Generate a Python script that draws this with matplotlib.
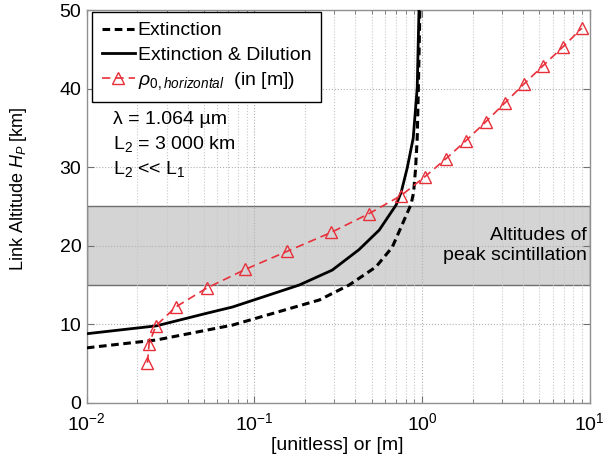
import numpy as np
import matplotlib
matplotlib.use('Agg')
import matplotlib.pyplot as plt

plt.rcParams['font.family'] = ['Liberation Sans', 'DejaVu Sans']
plt.rcParams['mathtext.fontset'] = 'custom'
plt.rcParams['mathtext.rm'] = 'Liberation Sans'
plt.rcParams['mathtext.it'] = 'Liberation Sans:italic'
plt.rcParams['mathtext.bf'] = 'Liberation Sans:bold'

# Extinction only (dashed black)
ext_x = [0.01, 0.026, 0.074, 0.168, 0.244, 0.367, 0.53, 0.663, 0.75, 0.86,
         0.89, 0.915, 0.935, 0.95, 0.97]
ext_h = [7.0, 8.0, 9.9, 12.1, 13.1, 15.0, 17.3, 19.8, 22.4, 25.3,
         26.8, 29.9, 33.7, 40.0, 50.0]

# Extinction & dilution (solid black)
dil_x = [0.01, 0.026, 0.0518, 0.074, 0.185, 0.291, 0.42, 0.555, 0.70, 0.75,
         0.815, 0.885, 0.935, 0.958]
dil_h = [8.8, 9.8, 11.4, 12.2, 15.0, 16.9, 19.5, 22.0, 25.2, 26.8,
         29.9, 33.7, 40.1, 50.0]

# rho_0,horizontal in m (red dashed, triangles)
rho_x = [0.0230, 0.0235, 0.0258, 0.0339, 0.0518, 0.0884, 0.157, 0.287, 0.483, 0.75,
         1.04, 1.39, 1.83, 2.40, 3.12, 4.05, 5.25, 6.90, 8.96]
rho_h = [5.1, 7.5, 9.8, 12.2, 14.6, 17.0, 19.3, 21.7, 24.1, 26.4,
         28.8, 31.1, 33.4, 35.8, 38.2, 40.6, 42.9, 45.3, 47.7]

band = [15, 25]

fig = plt.figure(figsize=(6.03, 4.63), dpi=100)
ax = fig.add_axes([0.144, 0.130, 0.834, 0.848])

ax.axhspan(band[0], band[1], facecolor='#d4d4d4', edgecolor='#6e6e6e', lw=1.0, zorder=0.5)

ax.plot(ext_x, ext_h, 'k--', lw=2.2, dashes=(2.5, 1.5), label='Extinction', zorder=3)
ax.plot(dil_x, dil_h, 'k-', lw=2.0, label='Extinction & Dilution', zorder=3)
ax.plot(rho_x, rho_h, '--', color='#e8303a', lw=1.2, marker='^', ms=8,
        mfc='none', mec='#e8303a', mew=1.0, dashes=(5, 3),
        label=r'$\rho_{\mathit{0,horizontal}}$  (in [m])', zorder=4)

ax.set_xscale('log')
ax.set_xlim(1e-2, 10)
ax.set_ylim(0, 50)
ax.set_yticks([0, 10, 20, 30, 40, 50])

ax.grid(True, which='major', ls=':', color='#b0b0b0', lw=0.8, zorder=1)
ax.grid(True, which='minor', axis='x', ls=':', color='#c8c8c8', lw=0.8, zorder=1)
ax.set_axisbelow(True)

ax.tick_params(which='both', direction='in', top=True, right=True, colors='#707070',
               labelcolor='black', labelsize=14)
ax.tick_params(which='major', length=5)
ax.tick_params(which='minor', length=3)
ax.tick_params(axis='x', which='major', pad=7)
ax.tick_params(axis='y', which='major', pad=4)
for s in ax.spines.values():
    s.set_color('#909090')
    s.set_linewidth(1.0)

ax.set_xlabel('[unitless] or [m]', fontsize=14)
ax.set_ylabel('Link Altitude $H_P$ [km]', fontsize=13)
ax.xaxis.set_label_coords(0.498, -0.086)
ax.yaxis.set_label_coords(-0.115, 0.545)

leg = ax.legend(loc='upper left', bbox_to_anchor=(0.010, 0.995), borderaxespad=0,
                fancybox=False, edgecolor='black', framealpha=1, fontsize=14,
                handlelength=1.7, handletextpad=0.15, labelspacing=0.33,
                borderpad=0.5)
leg.get_frame().set_linewidth(1.0)

ax.text(0.052, 0.722, 'λ = 1.064 µm', transform=ax.transAxes, fontsize=14, va='center')
ax.text(0.052, 0.659, 'L$_2$ = 3 000 km', transform=ax.transAxes, fontsize=14, va='center')
ax.text(0.052, 0.596, 'L$_2$ << L$_1$', transform=ax.transAxes, fontsize=14, va='center')

ax.text(0.995, 0.40, 'Altitudes of\npeak scintillation', transform=ax.transAxes,
        fontsize=14, ha='right', va='center', linespacing=1.25)

fig.savefig('out.png', dpi=100)
